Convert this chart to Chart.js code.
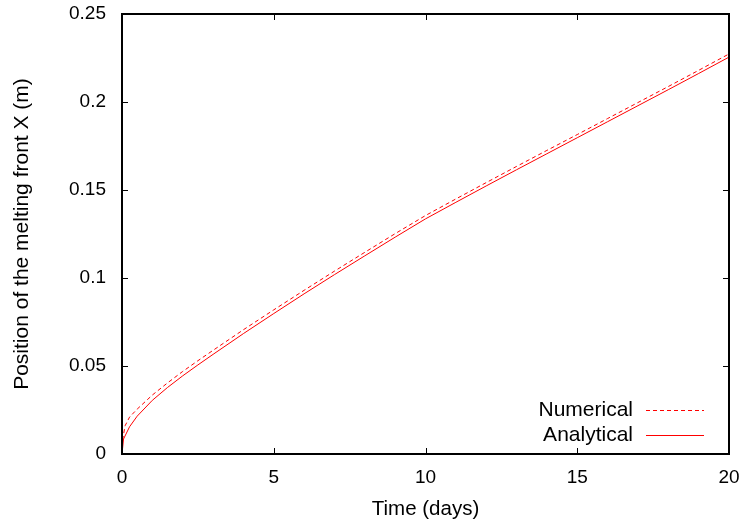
<!DOCTYPE html>
<html>
<head>
<meta charset="utf-8">
<script src="https://cdn.jsdelivr.net/npm/chart.js@4"></script>
<style>
html,body{margin:0;padding:0;background:#fff;}
#wrap{width:744px;height:522px;position:relative;}
</style>
</head>
<body>
<div id="wrap"><canvas id="c" width="744" height="522"></canvas></div>
<script>
const timeNumerical = [0, 0.02, 0.1, 0.25, 0.5, 1, 1.5, 2, 2.5, 3, 4, 5, 6, 7, 8, 9, 10, 11, 12, 13, 14, 15, 16, 17, 18, 19, 20];
const xNumerical = [0, 0.008, 0.016, 0.021, 0.0255, 0.0335, 0.0404, 0.0469, 0.0530, 0.0589, 0.0706, 0.0819, 0.0930, 0.1039, 0.1146, 0.1252, 0.1355, 0.1449, 0.1542, 0.1634, 0.1725, 0.1815, 0.1906, 0.1997, 0.2088, 0.2180, 0.2273];
const timeAnalytical = [0, 0.05, 0.25, 0.5, 1, 1.5, 2, 2.5, 3, 4, 5, 6, 7, 8, 9, 10, 11, 12, 13, 14, 15, 16, 17, 18, 19, 20];
const xAnalytical = [0, 0.0085, 0.0155, 0.0215, 0.0305, 0.0378, 0.0444, 0.0506, 0.0566, 0.0684, 0.0798, 0.0910, 0.1019, 0.1126, 0.1232, 0.1336, 0.1430, 0.1523, 0.1615, 0.1706, 0.1797, 0.1888, 0.1979, 0.2070, 0.2162, 0.2255];
const xTicks = [0, 5, 10, 15, 20];
const yTicks = [0, 0.05, 0.1, 0.15, 0.2, 0.25];
const seriesLabels = ["Numerical", "Analytical"];

const FONT = "'Liberation Sans', Arial, Helvetica, sans-serif";
const RED = '#ff0000';

const toPts = (xs, ys) => xs.map((x, i) => ({x: x, y: ys[i]}));

const framePlugin = {
  id: 'frame',
  afterDatasetsDraw(chart) {
    const ctx = chart.ctx, a = chart.chartArea;
    const xs = chart.scales.x, ys = chart.scales.y;
    ctx.save();
    ctx.strokeStyle = '#000';
    ctx.lineWidth = 1;
    const L = 6;
    ctx.beginPath();
    xTicks.forEach(v => {
      const px = Math.round(xs.getPixelForValue(v)) + 0.5;
      ctx.moveTo(px, a.bottom); ctx.lineTo(px, a.bottom - L);
      ctx.moveTo(px, a.top); ctx.lineTo(px, a.top + L);
    });
    yTicks.forEach(v => {
      const py = Math.round(ys.getPixelForValue(v)) + 0.5;
      ctx.moveTo(a.left, py); ctx.lineTo(a.left + L, py);
      ctx.moveTo(a.right, py); ctx.lineTo(a.right - L, py);
    });
    ctx.stroke();
    ctx.lineWidth = 2;
    ctx.strokeRect(a.left, a.top, a.right - a.left, a.bottom - a.top);
    // legend
    ctx.font = '21px ' + FONT;
    ctx.textAlign = 'right';
    ctx.textBaseline = 'middle';
    ctx.fillStyle = '#000';
    const rows = [410, 435];
    const dashes = [[4, 3], []];
    chart.data.datasets.forEach((ds, i) => {
      const y = rows[i];
      ctx.fillText(ds.label, 633, y);
      ctx.beginPath();
      ctx.strokeStyle = RED;
      ctx.lineWidth = 1;
      ctx.setLineDash(dashes[i]);
      ctx.moveTo(646, y + 0.5); ctx.lineTo(704, y + 0.5);
      ctx.stroke();
      ctx.setLineDash([]);
    });
    ctx.restore();
  }
};

new Chart(document.getElementById('c'), {
  type: 'scatter',
  data: {
    datasets: [
      {label: seriesLabels[0], data: toPts(timeNumerical, xNumerical), showLine: true, borderColor: RED, borderWidth: 1, borderDash: [4, 3], pointRadius: 0, fill: false, tension: 0},
      {label: seriesLabels[1], data: toPts(timeAnalytical, xAnalytical), showLine: true, borderColor: RED, borderWidth: 1, pointRadius: 0, fill: false, tension: 0}
    ]
  },
  options: {
    responsive: false,
    animation: false,
    devicePixelRatio: 1,
    layout: {padding: {top: 14, right: 15, left: 0, bottom: 0}},
    plugins: {legend: {display: false}, tooltip: {enabled: false}},
    scales: {
      x: {
        type: 'linear', min: 0, max: 20,
        afterBuildTicks: s => { s.ticks = xTicks.map(v => ({value: v})); },
        afterFit: s => { s.height = 68; s.paddingLeft = 0; s.paddingRight = 0; },
        grid: {display: false, drawTicks: false},
        border: {display: false},
        ticks: {color: '#000', font: {size: 19, family: FONT}, padding: 12, maxRotation: 0},
        title: {display: true, text: 'Time (days)', color: '#000', font: {size: 20.5, family: FONT}, padding: {top: 4, bottom: 0}}
      },
      y: {
        type: 'linear', min: 0, max: 0.25,
        afterBuildTicks: s => { s.ticks = yTicks.map(v => ({value: v})); },
        afterFit: s => { s.width = 122; s.paddingTop = 0; s.paddingBottom = 0; },
        grid: {display: false, drawTicks: false},
        border: {display: false},
        ticks: {color: '#000', font: {size: 19, family: FONT}, padding: 16, callback: v => String(v)},
        title: {display: true, text: 'Position of the melting front X (m)', color: '#000', font: {size: 21, family: FONT}, padding: {top: 10, bottom: 0}}
      }
    }
  },
  plugins: [framePlugin]
});
</script>
</body>
</html>
